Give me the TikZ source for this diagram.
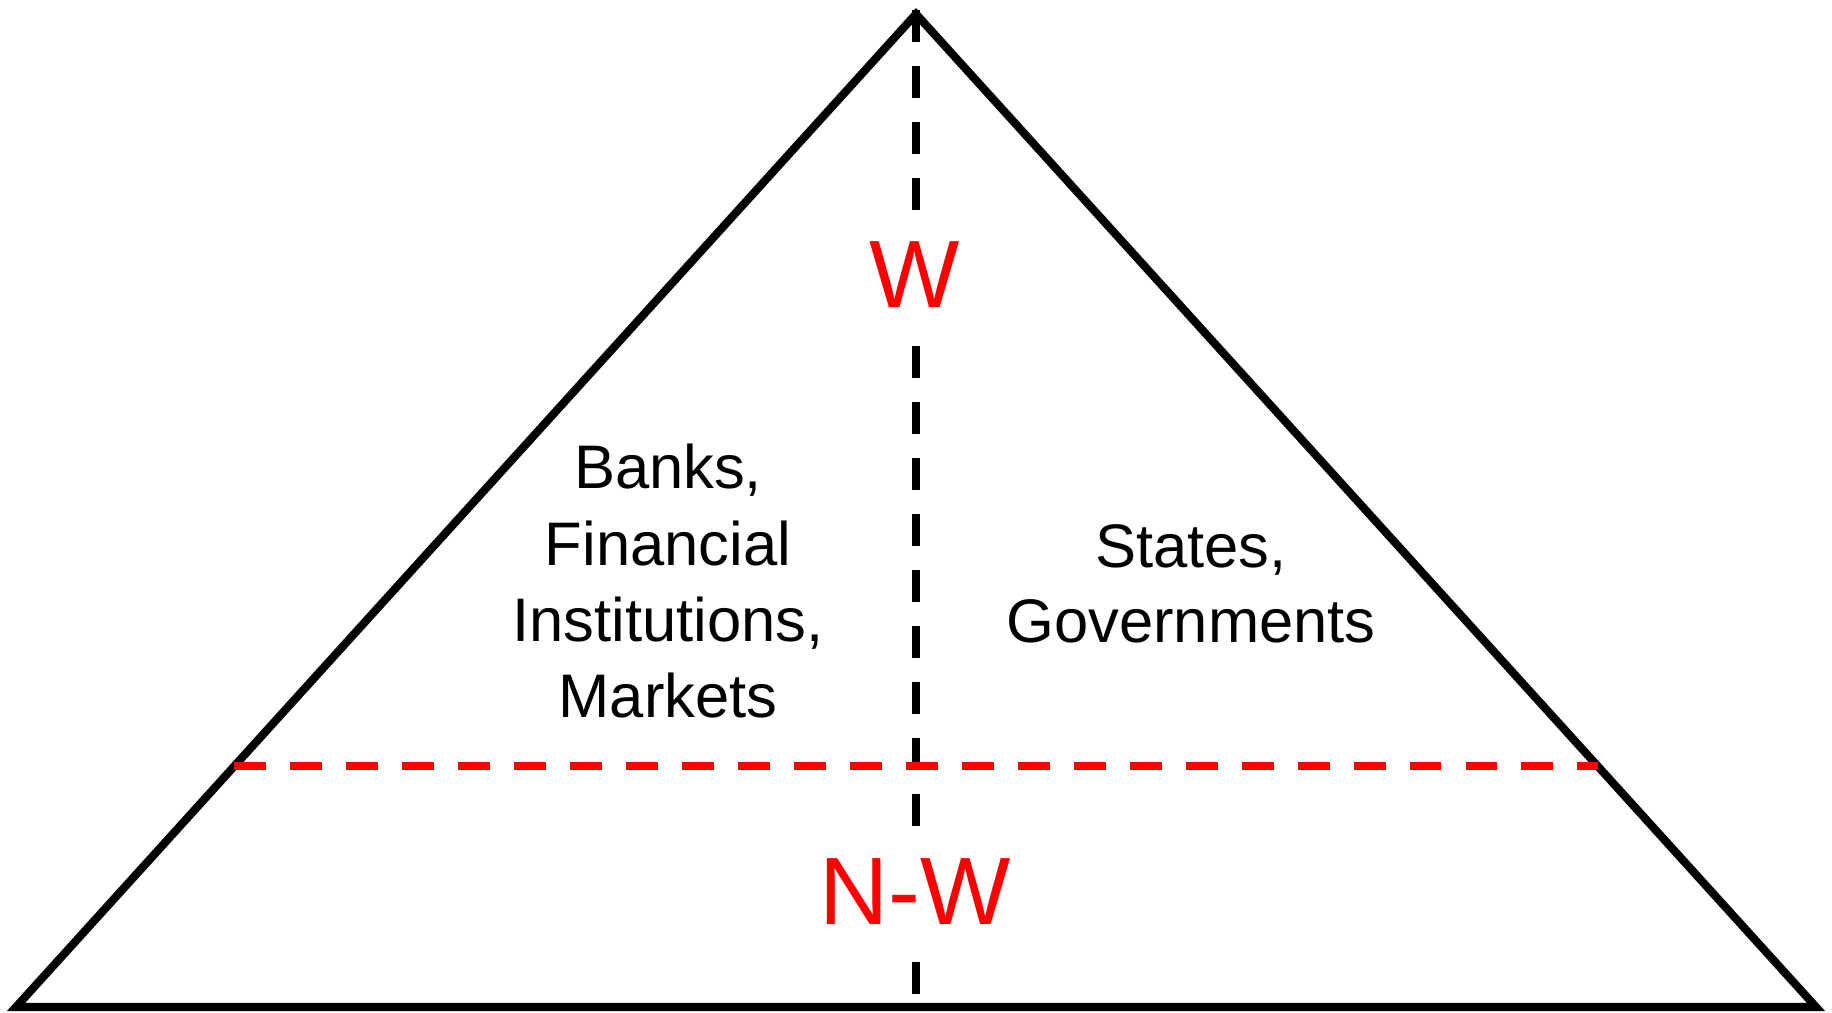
\documentclass[tikz,border=0pt]{standalone}
\usepackage{fontspec}
\setmainfont{Liberation Sans}
\usetikzlibrary{positioning}

\begin{document}
\begin{tikzpicture}[x=0.02cm, y=-0.02cm, line width=4.6pt,
        split line/.style={dash pattern=on 18.2pt off 13.66pt},
        level line/.style={red, dash pattern=on 18.2pt off 13.66pt},
        level node/.style={text=red, fill=white, inner xsep=2pt, inner ysep=18.5pt, font=\fontsize{54.5}{60}\selectfont},
        group node/.style={align=center, inner sep=0pt, anchor=north}]
    \useasboundingbox (0,0) rectangle (1832,1012);

    \coordinate (apex) at (916,14);
    \coordinate (left) at (16,1007);
    \coordinate (right) at (1816,1007);
    \coordinate (top) at (916,10);
    \coordinate (bottom) at (916,994);
    \coordinate (wl) at (234,766);
    \coordinate (wr) at (1598,766);

    \draw[miter limit=20] (left) -- (apex) -- (right) -- cycle;
    \draw[split line] (top) -- (bottom);
    \draw[level line] (wl) -- (wr);

    \node[level node] (w) at (915,275) {W};
    \node[level node] (nw) at (915.5,891.5) {N-W};

    \node[group node, font=\fontsize{35}{43.5}\selectfont] (banks) at (668,440)
        {Banks,\\Financial\\Institutions,\\Markets};
    \node[group node, font=\fontsize{35}{42.5}\selectfont] (states) at (1191,521)
        {States,\\Governments};
\end{tikzpicture}
\end{document}
